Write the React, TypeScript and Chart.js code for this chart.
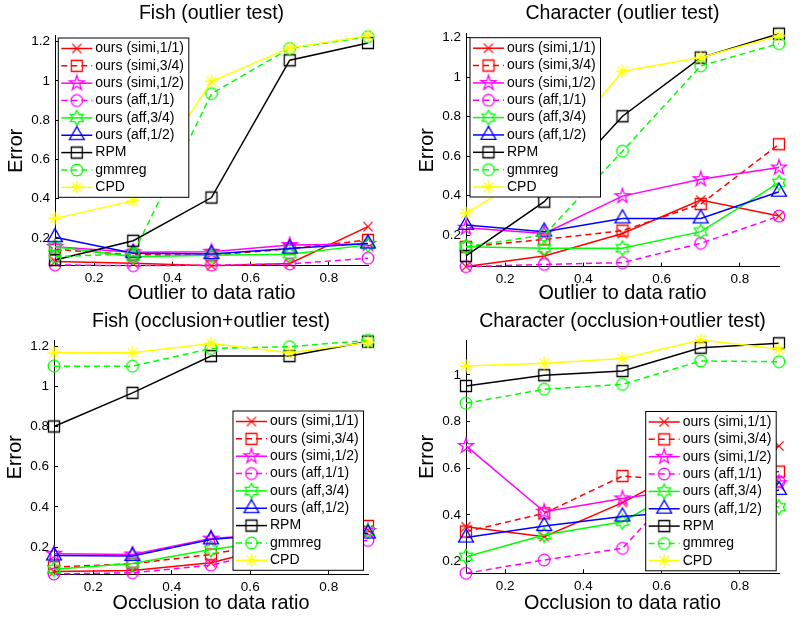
import { useEffect, useRef } from "react"
import { Chart, registerables } from "chart.js"

Chart.register(...registerables)

const FONT = "'Liberation Sans', Arial, Helvetica, sans-serif"

const ratios = [0.1, 0.3, 0.5, 0.7, 0.9]
const errorTicks = [0.2, 0.4, 0.6, 0.8, 1, 1.2]
const ratioTicks = [0.2, 0.4, 0.6, 0.8]

const seriesNames = [
  "ours (simi,1/1)",
  "ours (simi,3/4)",
  "ours (simi,1/2)",
  "ours (aff,1/1)",
  "ours (aff,3/4)",
  "ours (aff,1/2)",
  "RPM",
  "gmmreg",
  "CPD",
]

// one row per series, same order as seriesNames
const fishOutlier = [
  [0.08, 0.072, 0.059, 0.07, 0.258],
  [0.142, 0.115, 0.112, 0.145, 0.19],
  [0.155, 0.127, 0.13, 0.164, 0.17],
  [0.063, 0.059, 0.062, 0.068, 0.097],
  [0.155, 0.105, 0.112, 0.117, 0.165],
  [0.204, 0.123, 0.118, 0.146, 0.172],
  [0.088, 0.186, 0.406, 1.105, 1.193],
  [0.105, 0.12, 0.935, 1.165, 1.225],
  [0.3, 0.389, 0.998, 1.168, 1.23],
]

const charOutlier = [
  [0.04, 0.094, 0.208, 0.377, 0.296],
  [0.14, 0.178, 0.222, 0.357, 0.66],
  [0.237, 0.208, 0.397, 0.483, 0.542],
  [0.04, 0.051, 0.06, 0.158, 0.296],
  [0.141, 0.133, 0.133, 0.217, 0.465],
  [0.251, 0.217, 0.284, 0.284, 0.419],
  [0.094, 0.369, 0.802, 1.099, 1.22],
  [0.141, 0.2, 0.625, 1.057, 1.17],
  [0.31, 0.55, 1.03, 1.099, 1.21],
]

const fishOcclusion = [
  [0.078, 0.083, 0.122, 0.22, 0.285],
  [0.1, 0.117, 0.163, 0.24, 0.305],
  [0.167, 0.163, 0.242, 0.27, 0.28],
  [0.066, 0.072, 0.11, 0.2, 0.233],
  [0.09, 0.118, 0.188, 0.24, 0.28],
  [0.158, 0.155, 0.238, 0.27, 0.267],
  [0.8, 0.967, 1.15, 1.15, 1.222],
  [1.1, 1.1, 1.188, 1.197, 1.228],
  [1.167, 1.167, 1.213, 1.167, 1.218],
]

const charOcclusion = [
  [0.35, 0.307, 0.453, 0.63, 0.696],
  [0.329, 0.407, 0.567, 0.54, 0.586],
  [0.696, 0.414, 0.471, 0.52, 0.536],
  [0.15, 0.207, 0.257, 0.62, 0.543],
  [0.221, 0.314, 0.371, 0.56, 0.433],
  [0.303, 0.353, 0.393, 0.42, 0.507],
  [0.953, 0.999, 1.017, 1.117, 1.136],
  [0.879, 0.939, 0.96, 1.06, 1.057],
  [1.039, 1.05, 1.071, 1.15, 1.111],
]

type Marker = "x" | "square" | "pentagram" | "circle" | "hexagram" | "triangle" | "asterisk"

const seriesStyles: { color: string; marker: Marker; dash: boolean }[] = [
  { color: "#ff0000", marker: "x", dash: false },
  { color: "#ff0000", marker: "square", dash: true },
  { color: "#ff00ff", marker: "pentagram", dash: false },
  { color: "#ff00ff", marker: "circle", dash: true },
  { color: "#00ff00", marker: "hexagram", dash: false },
  { color: "#0000ff", marker: "triangle", dash: false },
  { color: "#000000", marker: "square", dash: false },
  { color: "#00ff00", marker: "circle", dash: true },
  { color: "#ffff00", marker: "asterisk", dash: false },
]

// matlab-like unfilled markers, used as chart.js pointStyle images
function makeMarker(shape: Marker, color: string) {
  const c = document.createElement("canvas")
  c.width = 22
  c.height = 22
  const g = c.getContext("2d")!
  g.translate(11, 11)
  g.strokeStyle = color
  g.lineWidth = 1.3
  g.beginPath()
  const star = (n: number, R: number, r: number) => {
    for (let k = 0; k < 2 * n; k++) {
      const rad = k % 2 === 0 ? R : r
      const a = -Math.PI / 2 + (k * Math.PI) / n
      if (k === 0) g.moveTo(rad * Math.cos(a), rad * Math.sin(a))
      else g.lineTo(rad * Math.cos(a), rad * Math.sin(a))
    }
    g.closePath()
  }
  switch (shape) {
    case "x": {
      const a = 4.6
      g.moveTo(-a, -a)
      g.lineTo(a, a)
      g.moveTo(-a, a)
      g.lineTo(a, -a)
      break
    }
    case "square":
      g.rect(-5.5, -5.5, 11, 11)
      break
    case "circle":
      g.arc(0, 0, 5.8, 0, Math.PI * 2)
      break
    case "triangle": {
      const R = 8.6
      for (let k = 0; k < 3; k++) {
        const a = -Math.PI / 2 + (k * 2 * Math.PI) / 3
        if (k === 0) g.moveTo(R * Math.cos(a), R * Math.sin(a))
        else g.lineTo(R * Math.cos(a), R * Math.sin(a))
      }
      g.closePath()
      break
    }
    case "pentagram":
      star(5, 7.8, 7.8 * 0.382)
      break
    case "hexagram":
      star(6, 7.4, 7.4 / Math.sqrt(3))
      break
    case "asterisk": {
      const a = 6.5
      const d = 4.6
      g.moveTo(-a, 0)
      g.lineTo(a, 0)
      g.moveTo(0, -a)
      g.lineTo(0, a)
      g.moveTo(-d, -d)
      g.lineTo(d, d)
      g.moveTo(-d, d)
      g.lineTo(d, -d)
      break
    }
  }
  g.stroke()
  return c
}

// legend drawn inside the axes, matlab style (line + marker + text)
const boxLegend = {
  id: "boxLegend",
  afterDraw(chart: any, _args: any, opts: any) {
    const { ctx } = chart
    const datasets = chart.data.datasets
    const rowH = 17.35
    const w = 130.5
    const h = 10.5 + (datasets.length - 1) * rowH + 10
    const { x, y } = opts
    ctx.save()
    ctx.fillStyle = "#ffffff"
    ctx.fillRect(x, y, w, h)
    ctx.strokeStyle = "#000000"
    ctx.lineWidth = 1
    ctx.strokeRect(x, y, w, h)
    datasets.forEach((ds: any, i: number) => {
      const cy = y + 10.5 + i * rowH
      ctx.strokeStyle = ds.borderColor
      ctx.lineWidth = ds.borderWidth
      ctx.setLineDash(ds.borderDash || [])
      ctx.beginPath()
      ctx.moveTo(x + 3, cy)
      ctx.lineTo(x + 34, cy)
      ctx.stroke()
      ctx.setLineDash([])
      const img = ds.pointStyle as HTMLCanvasElement
      ctx.drawImage(img, x + 18.5 - img.width / 2, cy - img.height / 2)
      ctx.fillStyle = "#000000"
      ctx.font = `14px ${FONT}`
      ctx.textAlign = "left"
      ctx.textBaseline = "middle"
      ctx.fillText(ds.label, x + 37, cy)
    })
    ctx.restore()
  },
}

interface PanelProps {
  title: string
  xLabel: string
  values: number[][]
  box: { left: number; top: number; width: number; height: number }
  area: { l: number; t: number; r: number; b: number }
  titleY: number
  xTitleY: number
  legend: { x: number; y: number }
}

function Panel({ title, xLabel, values, box, area, titleY, xTitleY, legend }: PanelProps) {
  const chartRef = useRef<HTMLCanvasElement>(null)
  const chartInstance = useRef<Chart | null>(null)

  useEffect(() => {
    if (!chartRef.current) return
    if (chartInstance.current) chartInstance.current.destroy()
    const ctx = chartRef.current.getContext("2d")
    if (!ctx) return

    const all = values.flat()
    const yMin = Math.min(...all)
    const yMax = Math.max(...all)

    const datasets = seriesNames.map((name, i) => {
      const s = seriesStyles[i]
      return {
        label: name,
        data: ratios.map((x, j) => ({ x, y: values[i][j] })),
        borderColor: s.color,
        backgroundColor: "transparent",
        borderWidth: 1.5,
        borderDash: s.dash ? [6, 4] : [],
        pointStyle: makeMarker(s.marker, s.color),
        pointRadius: 6,
        pointHoverRadius: 6,
        fill: false,
        tension: 0,
        clip: false as any,
        order: seriesNames.length - i,
      }
    })

    const titleLH = 19.5
    const axisLH = 19.8
    const tickGrid = {
      display: true,
      drawOnChartArea: false,
      drawTicks: true,
      tickLength: -4,
      tickColor: "#000000",
      tickWidth: 1,
    }

    chartInstance.current = new Chart(ctx, {
      type: "line",
      data: { datasets },
      plugins: [boxLegend],
      options: {
        responsive: true,
        maintainAspectRatio: false,
        animation: false,
        events: [],
        layout: { padding: { left: 0, top: 0, bottom: 0, right: box.width - area.r } },
        scales: {
          x: {
            type: "linear",
            min: ratios[0],
            max: ratios[ratios.length - 1],
            afterBuildTicks: (scale: any) => {
              scale.ticks = ratioTicks.map((value) => ({ value }))
            },
            afterFit: (scale: any) => {
              scale.height = box.height - area.b
            },
            grid: tickGrid,
            border: { display: true, color: "#000000", width: 1 },
            ticks: {
              autoSkip: false,
              maxRotation: 0,
              color: "#000000",
              padding: 8.9,
              font: { family: FONT, size: 13.5, lineHeight: 1.2 },
              callback: (v: any) => String(v),
            },
            title: {
              display: true,
              text: xLabel,
              color: "#000000",
              font: { family: FONT, size: 19.8, lineHeight: 1 },
              padding: { top: 0, bottom: box.height - axisLH / 2 - xTitleY },
            },
          },
          y: {
            type: "linear",
            min: yMin,
            max: yMax,
            afterBuildTicks: (scale: any) => {
              scale.ticks = errorTicks
                .filter((v) => v >= scale.min && v <= scale.max)
                .map((value) => ({ value }))
            },
            afterFit: (scale: any) => {
              scale.width = area.l
            },
            grid: tickGrid,
            border: { display: true, color: "#000000", width: 1 },
            ticks: {
              autoSkip: false,
              color: "#000000",
              padding: 9,
              font: { family: FONT, size: 13.5, lineHeight: 1.2 },
              callback: (v: any) => String(v),
            },
            title: {
              display: true,
              text: "Error",
              color: "#000000",
              font: { family: FONT, size: 19.8, lineHeight: 1 },
              padding: { top: area.l - 38 - axisLH / 2, bottom: 0 },
            },
          },
        },
        plugins: {
          legend: { display: false },
          tooltip: { enabled: false },
          title: {
            display: true,
            text: title,
            color: "#000000",
            fullSize: false,
            font: { family: FONT, size: 19.5, weight: "normal", lineHeight: 1 },
            padding: {
              top: titleY - titleLH / 2,
              bottom: area.t - (titleY - titleLH / 2) - titleLH,
            },
          },
          boxLegend: legend,
        } as any,
      },
    })

    return () => {
      if (chartInstance.current) {
        chartInstance.current.destroy()
        chartInstance.current = null
      }
    }
  }, [title, xLabel, values])

  return (
    <div
      style={{
        position: "absolute",
        left: box.left,
        top: box.top,
        width: box.width,
        height: box.height,
      }}
    >
      <canvas ref={chartRef} />
    </div>
  )
}

export default function App() {
  return (
    <div
      style={{
        position: "absolute",
        left: 0,
        top: 0,
        width: 804,
        height: 623,
        background: "#ffffff",
      }}
    >
      <Panel
        title="Fish (outlier test)"
        xLabel="Outlier to data ratio"
        values={fishOutlier}
        box={{ left: 0, top: 0, width: 402, height: 311 }}
        area={{ l: 55, t: 35.7, r: 368, b: 265.7 }}
        titleY={14}
        xTitleY={294}
        legend={{ x: 58.3, y: 38 }}
      />
      <Panel
        title="Character (outlier test)"
        xLabel="Outlier to data ratio"
        values={charOutlier}
        box={{ left: 402, top: 0, width: 402, height: 311 }}
        area={{ l: 64, t: 33.7, r: 377, b: 266.6 }}
        titleY={13.7}
        xTitleY={294}
        legend={{ x: 68, y: 37.7 }}
      />
      <Panel
        title="Fish (occlusion+outlier test)"
        xLabel="Occlusion to data ratio"
        values={fishOcclusion}
        box={{ left: 0, top: 311, width: 402, height: 312 }}
        area={{ l: 54, t: 29.4, r: 368, b: 263 }}
        titleY={11}
        xTitleY={292.3}
        legend={{ x: 233, y: 100 }}
      />
      <Panel
        title="Character (occlusion+outlier test)"
        xLabel="Occlusion to data ratio"
        values={charOcclusion}
        box={{ left: 402, top: 311, width: 402, height: 312 }}
        area={{ l: 64, t: 29, r: 377, b: 262.3 }}
        titleY={11}
        xTitleY={292.3}
        legend={{ x: 243.7, y: 100.5 }}
      />
    </div>
  )
}
